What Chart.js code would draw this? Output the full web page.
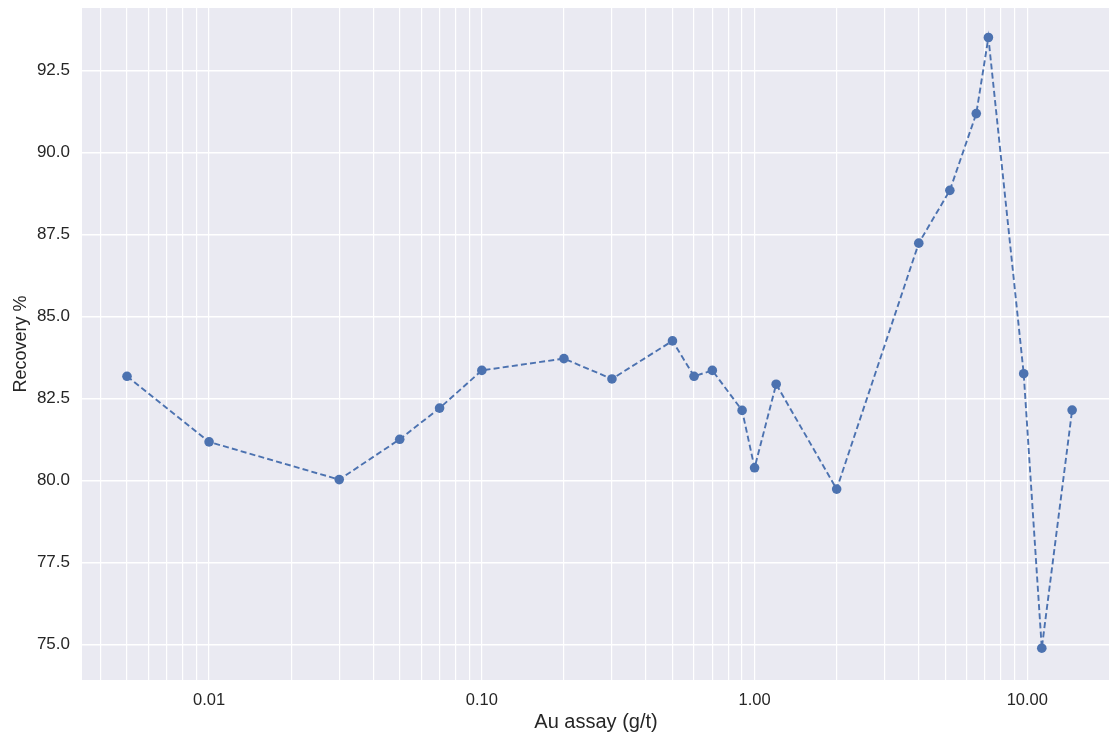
<!DOCTYPE html>
<html>
<head>
<meta charset="utf-8">
<script src="https://cdn.jsdelivr.net/npm/chart.js@4"></script>
<style>
  html, body { margin: 0; padding: 0; background: #ffffff; }
  #wrap { width: 1112px; height: 735px; position: relative; }
</style>
</head>
<body>
<div id="wrap"><canvas id="chart" width="1112" height="735"></canvas></div>
<script>
// Au assay (g/t) and recovery (%)
const assayGrades = [0.005, 0.01, 0.03, 0.05, 0.07, 0.10, 0.20, 0.30, 0.50, 0.60, 0.70, 0.90, 1.00, 1.20, 2.0, 4.0, 5.2, 6.5, 7.2, 9.7, 11.3, 14.6];
const recoveryPct  = [83.17, 81.17, 80.02, 81.25, 82.20, 83.35, 83.71, 83.09, 84.25, 83.17, 83.35, 82.13, 80.38, 82.93, 79.73, 87.23, 88.84, 91.18, 93.50, 83.25, 74.88, 82.14];

// Labelled x ticks (decades) and y ticks
const xTickLabels = { 0.01: '0.01', 0.1: '0.10', 1: '1.00', 10: '10.00' };
const yTickValues = [75.0, 77.5, 80.0, 82.5, 85.0, 87.5, 90.0, 92.5];

// Grid positions for the log axis: 1..9 × each decade
const xGridValues = [];
[0.001, 0.01, 0.1, 1, 10].forEach(function (d) {
  for (let k = 1; k <= 9; k++) xGridValues.push(+(k * d).toPrecision(3));
});

const textColor = '#262626';
const fontFamily = '"Liberation Sans", Arial, sans-serif';

const plotBackground = {
  id: 'plotBackground',
  beforeDraw(chart) {
    const { ctx, chartArea: a } = chart;
    ctx.save();
    ctx.fillStyle = '#EAEAF2';
    ctx.fillRect(a.left, a.top, a.right - a.left, a.bottom - a.top);
    ctx.restore();
  }
};

new Chart(document.getElementById('chart'), {
  type: 'line',
  data: {
    datasets: [{
      data: assayGrades.map((x, i) => ({ x: x, y: recoveryPct[i] })),
      borderColor: '#4C72B0',
      backgroundColor: '#4C72B0',
      borderWidth: 1.9,
      borderDash: [6, 3.2],
      pointRadius: 4.8,
      pointHoverRadius: 4.8,
      pointBorderWidth: 0,
      tension: 0,
      fill: false
    }]
  },
  options: {
    responsive: false,
    animation: false,
    devicePixelRatio: 1,
    layout: { autoPadding: false, padding: { top: 8, right: 2, bottom: 0, left: 0 } },
    plugins: { legend: { display: false }, tooltip: { enabled: false } },
    scales: {
      x: {
        type: 'logarithmic',
        min: 0.00342,
        max: 20.1,
        afterBuildTicks(scale) {
          scale.ticks = xGridValues
            .filter(v => v >= scale.min && v <= scale.max)
            .map(v => ({ value: v }));
        },
        afterFit(scale) {
          scale.height = 55;
          scale.paddingLeft = 0;
          scale.paddingRight = 0;
        },
        ticks: {
          autoSkip: false,
          maxRotation: 0,
          padding: 11,
          color: textColor,
          font: { family: fontFamily, size: 16.5 },
          callback(value) {
            const key = +value.toPrecision(3);
            return xTickLabels[key] !== undefined ? xTickLabels[key] : '';
          }
        },
        grid: { color: '#ffffff', lineWidth: 1.2, drawTicks: false },
        border: { display: false },
        title: {
          display: true,
          text: 'Au assay (g/t)',
          color: textColor,
          font: { family: fontFamily, size: 20 },
          padding: { top: 0, bottom: 1 }
        }
      },
      y: {
        type: 'linear',
        min: 73.91,
        max: 94.4,
        afterBuildTicks(scale) {
          scale.ticks = yTickValues.map(v => ({ value: v }));
        },
        afterFit(scale) {
          scale.width = 82;
          scale.paddingTop = 0;
          scale.paddingBottom = 0;
        },
        ticks: {
          padding: 12,
          color: textColor,
          font: { family: fontFamily, size: 17 },
          callback(value) { return value.toFixed(1); }
        },
        grid: { color: '#ffffff', lineWidth: 1.4, drawTicks: false },
        border: { display: false },
        title: {
          display: true,
          text: 'Recovery %',
          color: textColor,
          font: { family: fontFamily, size: 18 },
          padding: { top: 10, bottom: 4 }
        }
      }
    }
  },
  plugins: [plotBackground]
});
</script>
</body>
</html>
